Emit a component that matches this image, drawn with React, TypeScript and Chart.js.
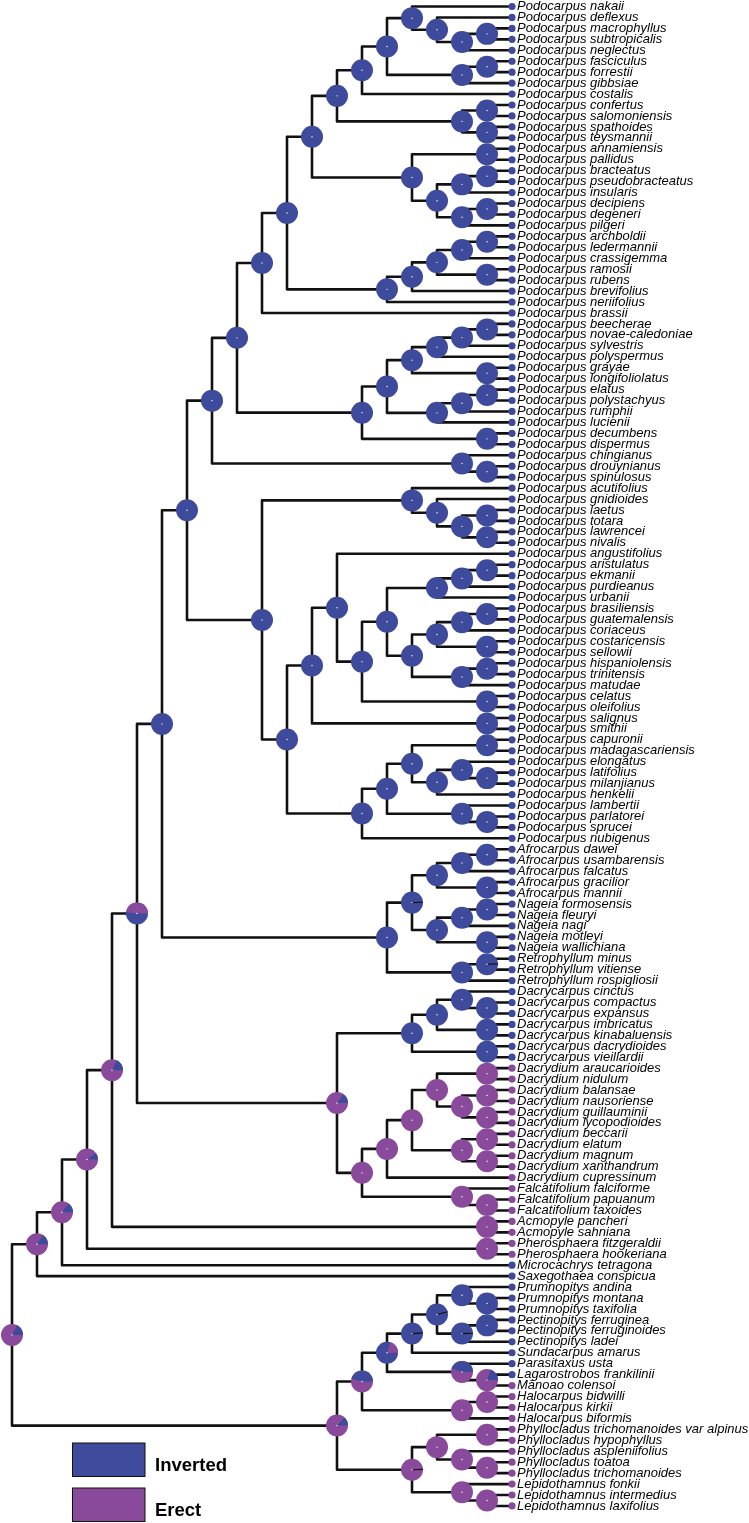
import React, { useEffect, useRef } from "react";
import { Chart, registerables } from "chart.js";

Chart.register(...registerables);

// ---------------- DATA ----------------
const tipNames: string[] = [
  "Podocarpus nakaii", "Podocarpus deflexus", "Podocarpus macrophyllus", "Podocarpus subtropicalis",
  "Podocarpus neglectus", "Podocarpus fasciculus", "Podocarpus forrestii", "Podocarpus gibbsiae",
  "Podocarpus costalis", "Podocarpus confertus", "Podocarpus salomoniensis", "Podocarpus spathoides",
  "Podocarpus teysmannii", "Podocarpus annamiensis", "Podocarpus pallidus", "Podocarpus bracteatus",
  "Podocarpus pseudobracteatus", "Podocarpus insularis", "Podocarpus decipiens", "Podocarpus degeneri",
  "Podocarpus pilgeri", "Podocarpus archboldii", "Podocarpus ledermannii", "Podocarpus crassigemma",
  "Podocarpus ramosii", "Podocarpus rubens", "Podocarpus brevifolius", "Podocarpus neriifolius",
  "Podocarpus brassii", "Podocarpus beecherae", "Podocarpus novae-caledoniae", "Podocarpus sylvestris",
  "Podocarpus polyspermus", "Podocarpus grayae", "Podocarpus longifoliolatus", "Podocarpus elatus",
  "Podocarpus polystachyus", "Podocarpus rumphii", "Podocarpus lucienii", "Podocarpus decumbens",
  "Podocarpus dispermus", "Podocarpus chingianus", "Podocarpus drouynianus", "Podocarpus spinulosus",
  "Podocarpus acutifolius", "Podocarpus gnidioides", "Podocarpus laetus", "Podocarpus totara",
  "Podocarpus lawrencei", "Podocarpus nivalis", "Podocarpus angustifolius", "Podocarpus aristulatus",
  "Podocarpus ekmanii", "Podocarpus purdieanus", "Podocarpus urbanii", "Podocarpus brasiliensis",
  "Podocarpus guatemalensis", "Podocarpus coriaceus", "Podocarpus costaricensis", "Podocarpus sellowii",
  "Podocarpus hispaniolensis", "Podocarpus trinitensis", "Podocarpus matudae", "Podocarpus celatus",
  "Podocarpus oleifolius", "Podocarpus salignus", "Podocarpus smithii", "Podocarpus capuronii",
  "Podocarpus madagascariensis", "Podocarpus elongatus", "Podocarpus latifolius", "Podocarpus milanjianus",
  "Podocarpus henkelii", "Podocarpus lambertii", "Podocarpus parlatorei", "Podocarpus sprucei",
  "Podocarpus nubigenus",
  "Afrocarpus dawei", "Afrocarpus usambarensis", "Afrocarpus falcatus", "Afrocarpus gracilior",
  "Afrocarpus mannii", "Nageia formosensis", "Nageia fleuryi", "Nageia nagi", "Nageia motleyi",
  "Nageia wallichiana", "Retrophyllum minus", "Retrophyllum vitiense", "Retrophyllum rospigliosii",
  "Dacrycarpus cinctus", "Dacrycarpus compactus", "Dacrycarpus expansus", "Dacrycarpus imbricatus",
  "Dacrycarpus kinabaluensis", "Dacrycarpus dacrydioides", "Dacrycarpus vieillardii",
  "Dacrydium araucarioides", "Dacrydium nidulum", "Dacrydium balansae", "Dacrydium nausoriense",
  "Dacrydium guillauminii", "Dacrydium lycopodioides", "Dacrydium beccarii", "Dacrydium elatum",
  "Dacrydium magnum", "Dacrydium xanthandrum", "Dacrydium cupressinum",
  "Falcatifolium falciforme", "Falcatifolium papuanum", "Falcatifolium taxoides",
  "Acmopyle pancheri", "Acmopyle sahniana", "Pherosphaera fitzgeraldii", "Pherosphaera hookeriana",
  "Microcachrys tetragona", "Saxegothaea conspicua",
  "Prumnopitys andina", "Prumnopitys montana", "Prumnopitys taxifolia",
  "Pectinopitys ferruginea", "Pectinopitys ferruginoides", "Pectinopitys ladei",
  "Sundacarpus amarus", "Parasitaxus usta", "Lagarostrobos frankilinii", "Mānoao colensoi",
  "Halocarpus bidwilli", "Halocarpus kirkii", "Halocarpus biformis",
  "Phyllocladus trichomanoides var alpinus", "Phyllocladus hypophyllus", "Phyllocladus aspleniifolius",
  "Phyllocladus toatoa", "Phyllocladus trichomanoides",
  "Lepidothamnus fonkii", "Lepidothamnus intermedius", "Lepidothamnus laxifolius",
];

// tip state: 1 = Inverted, 0 = Erect
const tipStates: number[] = [
  1, 1, 1, 1, 1, 1, 1, 1, 1, 1, // 1-10
  1, 1, 1, 1, 1, 1, 1, 1, 1, 1, // 11-20
  1, 1, 1, 1, 1, 1, 1, 1, 1, 1, // 21-30
  1, 1, 1, 1, 1, 1, 1, 1, 1, 1, // 31-40
  1, 1, 1, 1, 1, 1, 1, 1, 1, 1, // 41-50
  1, 1, 1, 1, 1, 1, 1, 1, 1, 1, // 51-60
  1, 1, 1, 1, 1, 1, 1, 1, 1, 1, // 61-70
  1, 1, 1, 1, 1, 1, 1, 1, 1, 1, // 71-80
  1, 1, 1, 1, 1, 1, 1, 1, 1, 1, // 81-90
  1, 1, 1, 1, 1, 1, 1, 0, 0, 0, // 91-100
  0, 0, 0, 0, 0, 0, 0, 0, 0, 0, // 101-110
  0, 0, 0, 0, 0, 1, 1, 1, 1, 1, // 111-120
  1, 1, 1, 1, 1, 1, 0, 0, 0, 0, // 121-130
  0, 0, 0, 0, 0, 0, 0, 0,       // 131-138
];

// clades (tips are 1-based indices into tipNames; internal labels = proportion Inverted)
const cladeA = "(1,(2,((3,4)1,5)1)1)1";
const cladeB = "((6,7)1,8)1";
const cladeT = "((10,11)1,(12,13)1)1";
const cladeC = "((14,15)1,(((16,17)1,18)1,((19,20)1,21)1)1)1";
const cladeD = "(((((22,23)1,24)1,(25,26)1)1,27)1,28)1";
const cladeE = "((((((30,31)1,32)1,33)1,(34,35)1)1,(((36,37)1,38)1,39)1)1,(40,41)1)1";
const cladeF = "(42,(43,44)1)1";
const cladeH = "(45,(46,((47,48)1,(49,50)1)1)1)1";
const cladeQ = "((((52,53)1,54)1,55)1,((((56,57)1,58)1,(59,60)1)1,((61,62)1,63)1)1)1";
const cladeJ = "((((68,69)1,((70,(71,72)1)1,73)1)1,(74,(75,76)1)1)1,77)1";
const cladeK = "(((((78,79)1,80)1,(81,82)1)1,(((83,84)1,85)1,(86,87)1)1)0.995,((88,89)0.995,90)1)1";
const cladeM = "(((91,(92,93)1)1,(94,95)1)1,(96,97)1)1";
const cladeN = "(((((98,99)0,((100,101)0,(102,103)0)0)0,((104,105)0,(106,107)0)0)0,108)0,(109,(110,111)0)0)0";
const cladePrumno = "((118,(119,120)1)1,((121,122)1,123)0.995)0.96";
const cladePara = "(125,(126,127)0.2)0.45";
const cladeHalo = "((128,129)0,130)0";
const cladePhyllo = "(((131,132)0,(133,(134,135)0)0)0,(136,(137,138)0)0)0.005";

const podNorth = `((((((${cladeA},${cladeB})1,9)1,${cladeT})1,${cladeC})1,${cladeD})1,29)1`;
const podN12 = `((${podNorth},${cladeE})1,${cladeF})1`;
const podSouth = `(${cladeH},(((51,(${cladeQ},(64,65)1)1)1,(66,67)1)1,${cladeJ})1)1`;
const podK = `((${podN12},${podSouth})1,${cladeK})1`;
const dacClade = `(${cladeM},${cladeN})0.15`;
const upper = `(((((${podK},${dacClade})0.52,(112,113)0)0.18,(114,115)0)0.1,116)0.15,117)0.16`;
const lower = `((((${cladePrumno},124)0.99,${cladePara})0.8,${cladeHalo})0.46,${cladePhyllo})0.13`;
const treeNewick = `(${upper},${lower})0.17;`;

const legendLabels = ["Inverted", "Erect"];
const stateColors = ["#3E4A9C", "#8A4A9B"]; // Inverted, Erect

// ---------------- LAYOUT CONSTANTS ----------------
const W = 749;
const H = 1523;
const TIP_PX = 512; // x pixel of tips
const LEVEL_PX = 25;
const TOP_PX = 6.5;
const ROW_PX = 10.945;
const PIE_R = 11;
const DOT_R = 3.6;

type TNode = { children: TNode[]; tip: number; p: number; x: number; y: number; h: number };

function parseNewick(src: string): TNode {
  const s = src.replace(/\s+/g, "").replace(/;$/, "");
  let i = 0;
  const parse = (): TNode => {
    if (s[i] === "(") {
      i++;
      const children: TNode[] = [];
      for (;;) {
        children.push(parse());
        if (s[i] === ",") { i++; continue; }
        if (s[i] === ")") { i++; break; }
        throw new Error("bad newick at " + i);
      }
      let lab = "";
      while (i < s.length && /[0-9.]/.test(s[i])) lab += s[i++];
      return { children, tip: -1, p: parseFloat(lab), x: 0, y: 0, h: 0 };
    }
    let lab = "";
    while (i < s.length && /[0-9]/.test(s[i])) lab += s[i++];
    const t = parseInt(lab, 10);
    return { children: [], tip: t, p: tipStates[t - 1], x: 0, y: 0, h: 0 };
  };
  return parse();
}

export default function App() {
  const ref = useRef<HTMLCanvasElement>(null);

  useEffect(() => {
    const canvas = ref.current;
    if (!canvas) return;
    const root = parseNewick(treeNewick);
    const internals: TNode[] = [];
    const tips: TNode[] = [];
    const walk = (n: TNode) => {
      if (n.children.length === 0) {
        n.h = 0;
        n.y = n.tip;
        tips.push(n);
        return;
      }
      n.children.forEach(walk);
      n.h = 1 + Math.max(...n.children.map((c) => c.h));
      n.y = n.children.reduce((a, c) => a + c.y, 0) / n.children.length;
      internals.push(n);
    };
    walk(root);
    const setX = (n: TNode) => {
      n.x = root.h - n.h;
      n.children.forEach(setX);
    };
    setX(root);

    const xMax = root.h;
    const xMin = xMax - TIP_PX / LEVEL_PX;
    const yMin = 1 - TOP_PX / ROW_PX;
    const yMax = yMin + H / ROW_PX;

    const branchSets = internals.map((n) => {
      const a = n.children[0];
      const b = n.children[n.children.length - 1];
      return {
        type: "scatter" as const,
        data: [
          { x: a.x, y: a.y },
          { x: n.x, y: a.y },
          { x: n.x, y: b.y },
          { x: b.x, y: b.y },
        ],
        showLine: true,
        borderColor: "#111111",
        borderWidth: 2.6,
        borderCapStyle: "round" as const,
        borderJoinStyle: "round" as const,
        pointRadius: 0,
        pointHoverRadius: 0,
        fill: false,
        clip: false as const,
        order: 2,
      };
    });

    const tipSet = {
      type: "scatter" as const,
      data: tips.map((t) => ({ x: t.x, y: t.y })),
      pointRadius: DOT_R,
      pointHoverRadius: DOT_R,
      pointBorderWidth: 0,
      pointBackgroundColor: tips.map((t) => (t.p === 1 ? stateColors[0] : stateColors[1])),
      clip: false as const,
      order: 0,
    };

    // minority state is drawn first, from east going counter-clockwise
    const drawPie = (ctx: CanvasRenderingContext2D, cx: number, cy: number, p: number) => {
      ctx.beginPath();
      ctx.arc(cx, cy, PIE_R, 0, Math.PI * 2);
      ctx.fillStyle = p >= 0.5 ? stateColors[0] : stateColors[1];
      ctx.fill();
      const m = Math.min(p, 1 - p);
      const minorColor = p >= 0.5 ? stateColors[1] : stateColors[0];
      if (m > 0) {
        const a = -Math.PI * 2 * m;
        if (m < 0.05) {
          ctx.beginPath();
          ctx.moveTo(cx, cy);
          ctx.lineTo(cx + PIE_R * Math.cos(a), cy + PIE_R * Math.sin(a));
          ctx.strokeStyle = "#111111";
          ctx.lineWidth = 1.1;
          ctx.stroke();
        } else {
          ctx.beginPath();
          ctx.moveTo(cx, cy);
          ctx.arc(cx, cy, PIE_R, 0, a, true);
          ctx.closePath();
          ctx.fillStyle = minorColor;
          ctx.fill();
        }
      }
      ctx.beginPath();
      ctx.arc(cx, cy, 0.7, 0, Math.PI * 2);
      ctx.fillStyle = "#ffffff";
      ctx.fill();
    };

    const piePlugin = {
      id: "nodePies",
      afterDatasetsDraw(chart: any) {
        const { ctx } = chart;
        const xs = chart.scales.x;
        const ys = chart.scales.y;
        ctx.save();
        for (const n of internals) {
          drawPie(ctx, xs.getPixelForValue(n.x), ys.getPixelForValue(n.y), n.p);
        }
        // legend
        const boxes = [
          { y: 1443, label: legendLabels[0], color: stateColors[0] },
          { y: 1488, label: legendLabels[1], color: stateColors[1] },
        ];
        ctx.font = "bold 18.5px 'Liberation Sans', Arial, sans-serif";
        ctx.textBaseline = "alphabetic";
        ctx.textAlign = "left";
        for (const b of boxes) {
          ctx.fillStyle = b.color;
          ctx.fillRect(72.5, b.y, 72.5, 33.5);
          ctx.strokeStyle = "#111111";
          ctx.lineWidth = 1;
          ctx.strokeRect(72.5, b.y, 72.5, 33.5);
          ctx.fillStyle = "#000000";
          ctx.fillText(b.label, 155, b.y + 28);
        }
        ctx.restore();
      },
    };

    const chart = new Chart(canvas, {
      type: "scatter",
      data: { datasets: [tipSet as any, ...(branchSets as any[])] },
      options: {
        animation: false,
        responsive: false,
        events: [],
        layout: { padding: 0, autoPadding: false },
        plugins: { legend: { display: false }, tooltip: { enabled: false } },
        scales: {
          x: { type: "linear", min: xMin, max: xMax, display: false },
          y: {
            type: "linear",
            position: "right",
            reverse: true,
            min: yMin,
            max: yMax,
            grid: { display: false, drawTicks: false },
            border: { display: false },
            afterBuildTicks: (scale: any) => {
              scale.ticks = tipNames.map((_, i) => ({ value: i + 1 }));
            },
            afterFit: (scale: any) => {
              scale.width = W - TIP_PX;
              scale.paddingTop = 0;
              scale.paddingBottom = 0;
            },
            ticks: {
              autoSkip: false,
              padding: 5,
              color: "#000000",
              font: { family: "'Liberation Sans', Arial, sans-serif", size: 13, style: "italic" },
              callback: (v: any) => tipNames[Number(v) - 1] ?? "",
            },
          },
        },
      },
      plugins: [piePlugin],
    });
    return () => chart.destroy();
  }, []);

  return (
    <div style={{ position: "absolute", left: 0, top: 0, width: W, height: H, background: "#ffffff" }}>
      <canvas ref={ref} width={W} height={H} style={{ width: W, height: H, display: "block" }} />
    </div>
  );
}
